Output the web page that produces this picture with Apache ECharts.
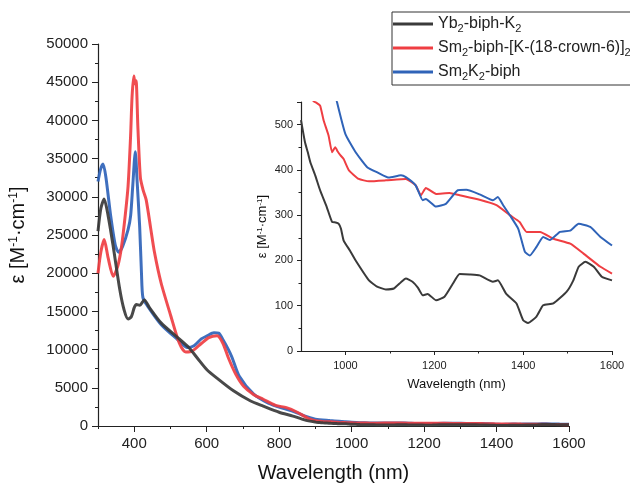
<!DOCTYPE html>
<html>
<head>
<meta charset="utf-8">
<script src="https://cdn.jsdelivr.net/npm/echarts@6/dist/echarts.min.js"></script>
<style>html,body{margin:0;padding:0;background:#fff}#c{width:630px;height:488px}</style>
</head>
<body>
<div id="c"></div>
<script>
// ---- data (wavelength nm, epsilon M^-1 cm^-1) ----
const seriesNames = ['Yb2-biph-K2', 'Sm2-biph-[K-(18-crown-6)]2', 'Sm2K2-biph'];
const legendLabels = ['Yb{s|2}-biph-K{s|2}', 'Sm{s|2}-biph-[K-(18-crown-6)]{s|2}', 'Sm{s|2}K{s|2}-biph'];

const ybUV = [[300,25500],[308,28500],[317,29700],[328,27500],[342,23500],[360,17900],[372,15200],[383,14000],[392,14300],[400,15500],[406,15900],[415,15800],[428,16500],[442,15500],[474,13500],[519,11600],[550,10300],[574,8900],[600,7400],[630,6200],[674,4600],[720,3300],[756,2600],[800,1800],[838,1300],[870,800]];
const smCrownUV = [[300,20000],[308,22800],[317,24400],[328,22000],[342,19600],[355,21000],[365,23500],[375,27500],[383,31400],[390,38000],[394,43100],[399,45800],[402,44800],[405,45200],[410,39200],[417,32500],[425,30800],[433,29600],[445,26000],[456,22700],[474,18750],[501,14400],[524,10900],[542,9700],[560,9800],[585,10800],[606,11580],[629,11800],[645,10800],[660,8900],[680,6800],[702,5200],[730,4100],[756,3500],[790,2700],[820,2400],[850,1800],[880,1000]];
const smK2UV = [[300,32000],[307,33600],[314,34300],[322,32500],[335,27500],[348,23600],[357,22750],[368,23500],[383,25700],[390,27500],[396,31500],[403,35900],[408,32000],[415,26100],[420,20000],[424,16800],[437,15700],[474,13300],[519,11350],[547,10270],[565,10500],[585,11400],[601,11800],[620,12200],[633,12150],[645,11300],[660,10000],[670,8970],[690,6500],[729,4200],[770,3000],[811,2300],[840,1900],[866,1400],[885,1100]];

const ybNIR = [[900,510],[909,461],[915,440],[921,417],[932,388],[943,355],[958,318],[970,285],[978,284],[985,281],[990,270],[996,244],[1010,222],[1023,200],[1053,156],[1070,143],[1091,136],[1109,138],[1125,152],[1136,160],[1151,153],[1163,140],[1174,123],[1185,126],[1204,112],[1223,120],[1242,149],[1257,170],[1280,169],[1302,167],[1332,153],[1343,156],[1362,126],[1385,105],[1400,68],[1411,62],[1430,76],[1445,101],[1468,105],[1498,131],[1513,156],[1525,186],[1540,197],[1559,186],[1577,164],[1600,156]];
const smCrownNIR = [[900,690],[915,610],[928,552],[935,548],[943,542],[951,509],[962,476],[970,439],[977,450],[983,440],[989,432],[996,424],[1008,399],[1030,380],[1053,375],[1091,377],[1136,380],[1158,366],[1170,344],[1181,360],[1204,347],[1234,349],[1257,344],[1302,334],[1340,322],[1370,300],[1392,285],[1408,263],[1438,263],[1468,248],[1506,237],[1536,215],[1574,186],[1600,171]];
const smK2NIR = [[900,900],[940,720],[965,620],[981,550],[1000,479],[1023,439],[1049,406],[1075,393],[1098,383],[1125,388],[1136,384],[1158,366],[1174,333],[1181,336],[1204,319],[1226,325],[1253,355],[1272,356],[1302,346],[1332,333],[1343,340],[1355,322],[1370,300],[1389,270],[1404,219],[1415,211],[1430,230],[1445,252],[1460,245],[1483,263],[1506,266],[1525,281],[1551,274],[1574,252],[1600,233]];

const mainXLabels = [400,600,800,1000,1200,1400,1600];
const mainXMinor = [300,500,700,900,1100,1300,1500];
const insetXLabels = [1000,1200,1400,1600];
const insetXMinor = [1100,1300,1500];

const colors = ['#3a3a3a', '#ef3e42', '#2f63b8'];
const uv = [ybUV, smCrownUV, smK2UV];
const nir = [ybNIR, smCrownNIR, smK2NIR];

const FONT = 'Liberation Sans, Arial, sans-serif';
const AX = '#222';
const plain = function (v) { return String(v); };

function axisCommon() {
  return {
    axisLine: {show: true, lineStyle: {color: AX, width: 1.2}},
    splitLine: {show: false}
  };
}

const chart = echarts.init(document.getElementById('c'), null, {renderer: 'canvas'});
const series = [];
for (let i = 0; i < 3; i++) {
  series.push({
    name: seriesNames[i], type: 'line', xAxisIndex: 0, yAxisIndex: 0,
    data: uv[i].concat(nir[i]), showSymbol: false, smooth: 0.25,
    lineStyle: {width: 3, color: colors[i], opacity: 0.92}, itemStyle: {color: colors[i]}, z: 3 - i + 2
  });
}
for (let i = 0; i < 3; i++) {
  series.push({
    name: seriesNames[i], type: 'line', xAxisIndex: 2, yAxisIndex: 1,
    data: nir[i], showSymbol: false, smooth: 0.15, clip: true,
    lineStyle: {width: 2, color: colors[i]}, itemStyle: {color: colors[i]}, z: 3
  });
}

chart.setOption({
  animation: false,
  backgroundColor: '#fff',
  textStyle: {fontFamily: FONT},
  legend: {
    data: seriesNames, left: 392, top: 12, orient: 'vertical',
    padding: [2, 6, 3, 1], itemGap: 4, itemWidth: 40, itemHeight: 3, icon: 'rect',
    borderColor: '#333', borderWidth: 1, backgroundColor: '#fff',
    formatter: function (n) { return legendLabels[seriesNames.indexOf(n)]; },
    textStyle: {fontSize: 16, color: '#222', fontFamily: FONT, lineHeight: 20,
      rich: {s: {fontSize: 11, verticalAlign: 'bottom', lineHeight: 12, fontFamily: FONT, color: '#222'}}}
  },
  grid: [
    {left: 93, right: 61, top: 44, bottom: 61},
    {left: 301, top: 102, width: 311, height: 249}
  ],
  xAxis: [
    Object.assign(axisCommon(), {
      type: 'value', gridIndex: 0, min: 300, max: 1600,
      name: 'Wavelength (nm)', nameLocation: 'middle', nameGap: 37,
      nameTextStyle: {fontSize: 20, color: '#111', fontFamily: FONT},
      axisLabel: {color: AX, fontSize: 15, fontFamily: FONT, margin: 10, customValues: mainXLabels, formatter: plain},
      axisTick: {show: true, length: 6, lineStyle: {color: AX}, customValues: mainXLabels}
    }),
    {
      type: 'value', gridIndex: 0, min: 300, max: 1600, position: 'bottom',
      axisLine: {show: false}, axisLabel: {show: false}, splitLine: {show: false},
      axisTick: {show: true, length: 3, lineStyle: {color: AX}, customValues: mainXMinor}
    },
    Object.assign(axisCommon(), {
      type: 'value', gridIndex: 1, min: 900, max: 1600,
      name: 'Wavelength (nm)', nameLocation: 'middle', nameGap: 27,
      nameTextStyle: {fontSize: 13, color: '#111', fontFamily: FONT},
      axisLabel: {color: AX, fontSize: 11, fontFamily: FONT, margin: 9, customValues: insetXLabels, formatter: plain},
      axisTick: {show: true, length: 4, lineStyle: {color: AX}, customValues: insetXLabels}
    }),
    {
      type: 'value', gridIndex: 1, min: 900, max: 1600, position: 'bottom',
      axisLine: {show: false}, axisLabel: {show: false}, splitLine: {show: false},
      axisTick: {show: true, length: 2.5, lineStyle: {color: AX}, customValues: insetXMinor}
    }
  ],
  yAxis: [
    Object.assign(axisCommon(), {
      type: 'value', gridIndex: 0, min: 0, max: 50000, interval: 5000,
      name: 'ε [M{p|-1}·cm{p|-1}]', nameLocation: 'middle', nameGap: 70,
      nameTextStyle: {fontSize: 20, color: '#111', fontFamily: FONT,
        rich: {p: {fontSize: 12, verticalAlign: 'top', lineHeight: 12, fontFamily: FONT, color: '#111'}}},
      axisLabel: {color: AX, fontSize: 15, fontFamily: FONT, margin: 10, formatter: plain},
      axisTick: {show: true, length: 6, lineStyle: {color: AX}},
      minorTick: {show: true, splitNumber: 2, length: 3, lineStyle: {color: AX}}
    }),
    Object.assign(axisCommon(), {
      type: 'value', gridIndex: 1, min: 0, max: 550, interval: 100,
      name: 'ε [M{p|-1}·cm{p|-1}]', nameLocation: 'middle', nameGap: 32,
      nameTextStyle: {fontSize: 13, color: '#111', fontFamily: FONT,
        rich: {p: {fontSize: 8, verticalAlign: 'top', lineHeight: 8, fontFamily: FONT, color: '#111'}}},
      axisLabel: {color: AX, fontSize: 11, fontFamily: FONT, margin: 8, showMaxLabel: false, formatter: plain},
      axisTick: {show: true, length: 4, lineStyle: {color: AX}},
      minorTick: {show: true, splitNumber: 2, length: 2.5, lineStyle: {color: AX}}
    })
  ],
  series: series
});
</script>
</body>
</html>
